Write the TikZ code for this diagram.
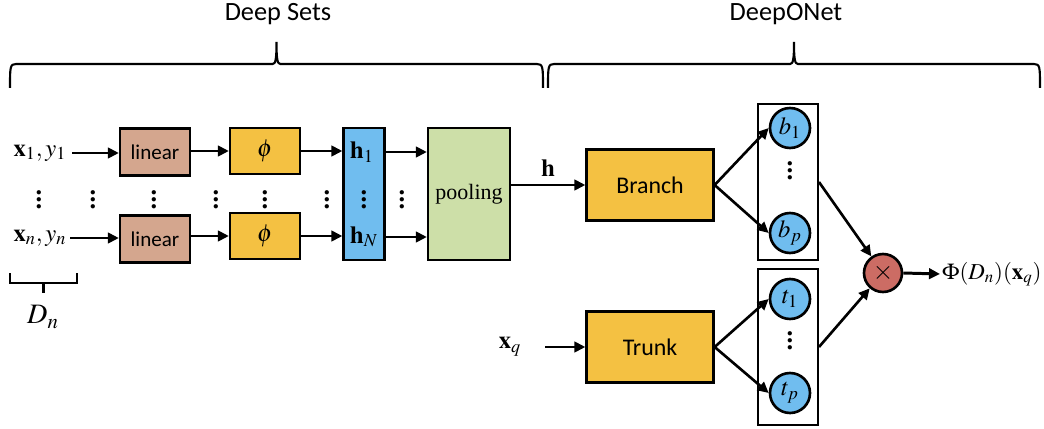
\documentclass[tikz,border=0pt]{standalone}
\usepackage{mathptmx}
\usepackage{fontspec}
\setmainfont{Liberation Serif}
\newfontfamily\calib{Carlito}
\usetikzlibrary{arrows.meta}

\definecolor{linbrown}{RGB}{212,166,142}
\definecolor{gold}{RGB}{244,193,66}
\definecolor{skyblue}{RGB}{112,189,239}
\definecolor{poolgreen}{RGB}{205,223,168}
\definecolor{prodred}{RGB}{204,108,100}

\begin{document}
\begin{tikzpicture}[
    x=0.02cm, y=-0.02cm,
    >={Triangle[length=2.2mm, width=2.1mm]},
    flow/.style={->, line width=1.7pt},
    blk/.style={draw, line width=1.3pt, inner sep=0pt},
    linblk/.style={blk, fill=linbrown, minimum width=1.4cm, minimum height=0.94cm,
        font=\calib\fontsize{12}{14}\selectfont},
    phiblk/.style={blk, fill=gold, minimum width=1.4cm, minimum height=0.92cm,
        font=\fontsize{14}{16}\selectfont},
    hcolblk/.style={blk, fill=skyblue, minimum width=0.82cm, minimum height=2.64cm},
    poolblk/.style={blk, fill=poolgreen, minimum width=1.64cm, minimum height=2.64cm,
        font=\fontsize{12.5}{14}\selectfont},
    netblk/.style={blk, fill=gold, minimum width=2.54cm, minimum height=1.42cm,
        font=\calib\fontsize{13.6}{15}\selectfont},
    coefbox/.style={draw, line width=1.1pt, minimum width=1.2cm, minimum height=3.12cm},
    coef/.style={circle, draw, line width=1.5pt, fill=skyblue, minimum size=0.8cm,
        inner sep=0pt, font=\fontsize{14}{16}\selectfont},
    prodnode/.style={circle, draw, line width=1.5pt, fill=prodred, minimum size=0.76cm,
        inner sep=0pt, font=\fontsize{15}{17}\selectfont},
    lbl/.style={font=\fontsize{14}{16}\selectfont, inner sep=1pt},
    vdotsnode/.style={font=\fontsize{15}{17}\selectfont\bfseries, inner sep=0pt},
    title/.style={font=\calib\fontsize{15}{18}\selectfont}
]

\useasboundingbox (0,0) rectangle (1044,429);

% --- Braces and titles ---
\foreach \a/\b in {10/543, 548/1040} {
    \pgfmathsetmacro\m{(\a+\b)/2}
    \draw[line width=1.2pt] (\a,88) .. controls (\a,67) and (\a,64) .. (\a+6,64)
        -- (\m-4,64) .. controls (\m-1,64) and (\m,60) .. (\m,42)
        .. controls (\m,60) and (\m+1,64) .. (\m+4,64)
        -- (\b-6,64) .. controls (\b,64) and (\b,67) .. (\b,88);
}
\node[title] (tsets) at (278,14) {Deep Sets};
\node[title] (tonet) at (786,14) {DeepONet};

% --- Deep Sets rows ---
\node[lbl] (x1)   at (40,153) {$\mathbf{x}_1, y_1$};
\node[lbl] (xn)   at (40,238) {$\mathbf{x}_n, y_n$};
\node[linblk] (lin1) at (155,152) {linear};
\node[linblk] (lin2) at (155,239) {linear};
\node[phiblk] (phi1) at (265,151) {$\phi$};
\node[phiblk] (phi2) at (265,236) {$\phi$};
\node[hcolblk] (hcol) at (364,194) {};
\node[lbl] (h1) at (362,152) {$\mathbf{h}_1$};
\node[lbl] (hN) at (364,237) {$\mathbf{h}_N$};
\node[poolblk] (pool) at (469,194) {pooling};

\draw[flow] (x1.east) ++(4,0) coordinate (x1o) -- (lin1.west |- x1o);
\draw[flow] (xn.east) ++(2,0) coordinate (xno) -- (lin2.west |- xno);
\draw[flow] (lin1.east |- phi1) -- (phi1);
\draw[flow] (lin2.east |- phi2) -- (phi2);
\draw[flow] (phi1.east) -- (phi1.east -| hcol.west);
\draw[flow] (phi2.east) -- (phi2.east -| hcol.west);
\draw[flow] (h1 -| hcol.east) -- (h1 -| pool.west);
\draw[flow] (hN -| hcol.east) -- (hN -| pool.west);

% vertical dots between the rows
\foreach \x [count=\i] in {39,93,154,216,265,327,364,402}
    \node[vdotsnode] (vd\i) at (\x,194) {$\vdots$};

% --- D_n bracket ---
\draw[line width=1.2pt] (10,273) -- (10,283) -- (77,283) -- (77,273);
\draw[line width=1.2pt] (43.5,283) -- (43.5,293);
\node[lbl, font=\fontsize{16}{18}\selectfont] (dn) at (43,317) {$D_n$};

% --- DeepONet ---
\node[netblk] (branch) at (650,185) {Branch};
\node[netblk] (trunk)  at (650,347) {Trunk};
\node[lbl] (xq) at (510,347) {$\mathbf{x}_q$};

\draw[flow] (pool.east |- branch) -- (branch)
    node[midway, above=3pt, lbl] {$\mathbf{h}$};
\draw[flow] (xq.east) ++(22,0) coordinate (xqo) -- (trunk.west |- xqo);

\node[coefbox] (bbox) at (788,182) {};
\node[coefbox] (tbox) at (788,347) {};
\node[coef] (b1) at (790,128) {$b_1$};
\node[coef] (bp) at (790,233) {$b_p$};
\node[coef] (t1) at (790,299) {$t_1$};
\node[coef] (tp) at (790,393) {$t_p$};
\node[vdotsnode] (bdots) at (790,165) {$\vdots$};
\node[vdotsnode] (tdots) at (790,335) {$\vdots$};

\draw[flow, line width=1.5pt] (branch.east) -- (b1.west);
\draw[flow, line width=1.5pt] (branch.east) -- (bp.west);
\draw[flow, line width=1.5pt] (trunk.east) -- (t1.west);
\draw[flow, line width=1.5pt] (trunk.east) -- (tp.west);

\node[prodnode] (prod) at (883,273) {$\times$};
\draw[flow, line width=1.5pt] (bbox.east) -- (prod);
\draw[flow, line width=1.5pt] (tbox.east) -- (prod);

\node[lbl, anchor=west, font=\fontsize{13}{15}\selectfont] (out) at (940,274)
    {$\Phi(D_n)(\mathbf{x}_q)$};
\draw[flow] (prod.east) -- (out.west);

\end{tikzpicture}
\end{document}
